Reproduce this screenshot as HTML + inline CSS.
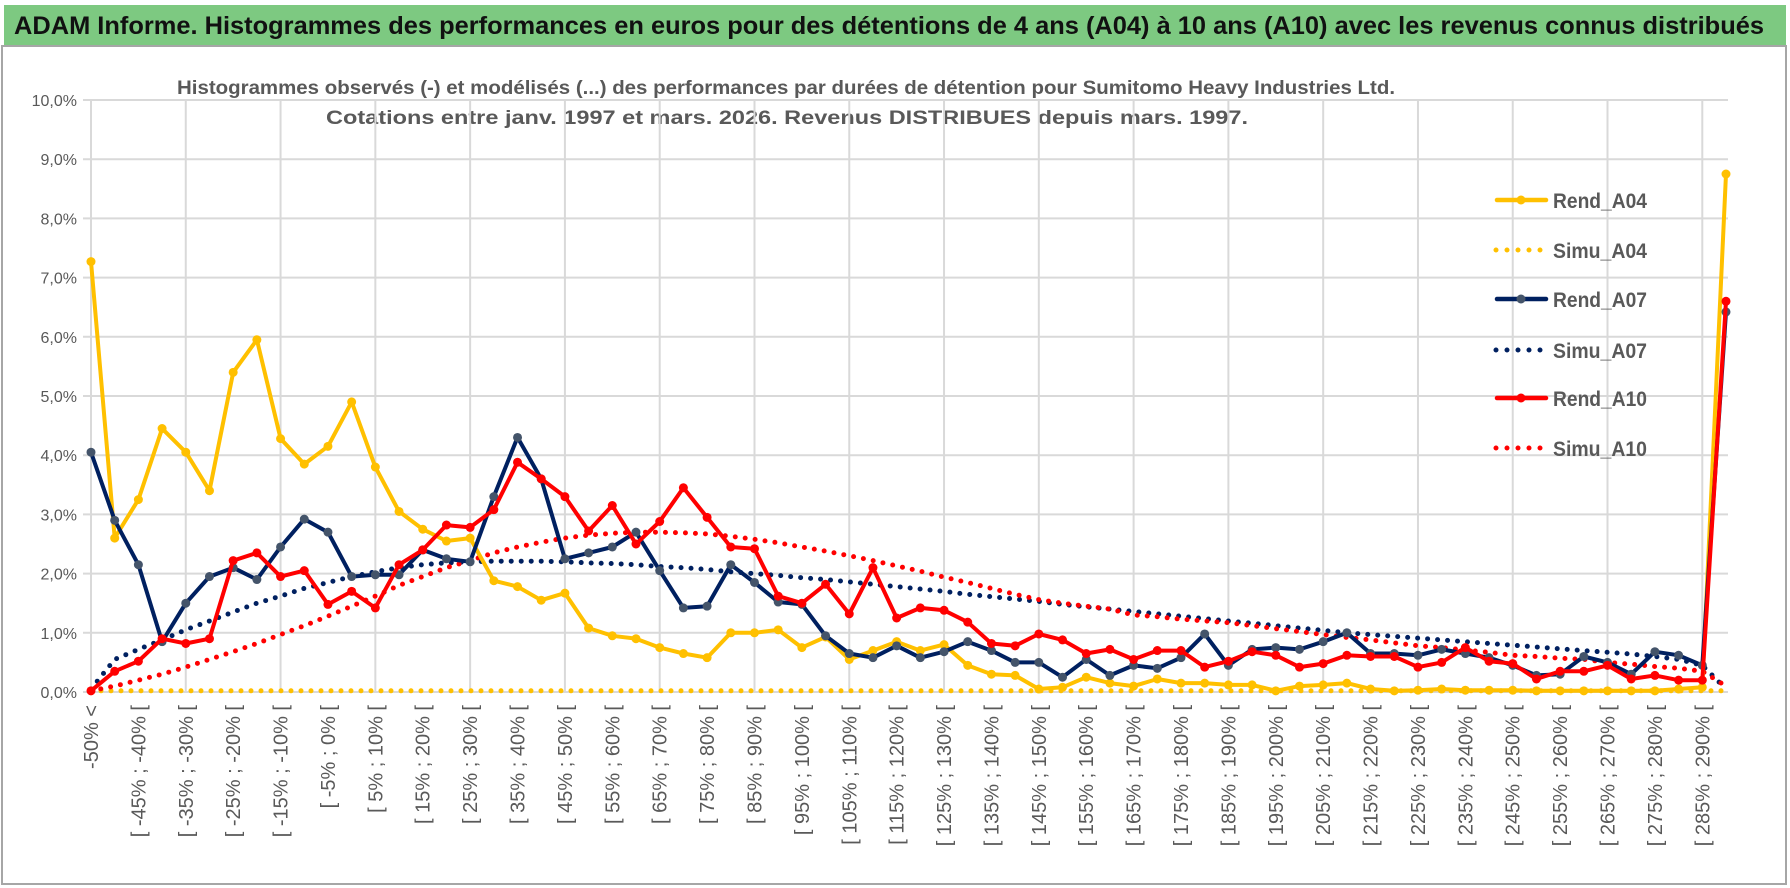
<!DOCTYPE html>
<html><head><meta charset="utf-8">
<style>
html,body{margin:0;padding:0;background:#fff;width:1790px;height:888px;overflow:hidden}
svg{display:block;font-family:"Liberation Sans",sans-serif}
</style></head>
<body>
<svg id="chart" width="1790" height="888" viewBox="0 0 1790 888" xmlns="http://www.w3.org/2000/svg">
<rect x="0" y="0" width="1790" height="888" fill="#fff"/>
<rect x="2" y="46" width="1784" height="838" fill="#fff" stroke="#a6a6a6" stroke-width="2"/>
<rect x="4" y="5" width="1782" height="40" fill="#7dc981"/>
<text x="14" y="34" font-size="25" font-weight="bold" fill="#111" textLength="1750" lengthAdjust="spacingAndGlyphs">ADAM Informe. Histogrammes des performances en euros pour des détentions de 4 ans (A04) à 10 ans (A10) avec les revenus connus distribués</text>
<text x="177" y="94" font-size="19" font-weight="bold" fill="#595959" textLength="1218" lengthAdjust="spacingAndGlyphs">Histogrammes observés (-) et modélisés (...) des performances par durées de détention pour Sumitomo Heavy Industries Ltd.</text>
<text x="326" y="124" font-size="19" font-weight="bold" fill="#595959" textLength="922" lengthAdjust="spacingAndGlyphs">Cotations entre janv. 1997 et mars. 2026. Revenus DISTRIBUES depuis mars. 1997.</text>
<g id="grid"></g>
<g id="series"></g>
<g id="axes"></g>
<g id="legend"></g>
</svg>
<script>
const categories = ["-50% <","[ -50% ; -45% [","[ -45% ; -40% [","[ -40% ; -35% [","[ -35% ; -30% [","[ -30% ; -25% [","[ -25% ; -20% [","[ -20% ; -15% [","[ -15% ; -10% [","[ -10% ; -5% [","[ -5% ; 0% [","[ 0% ; 5% [","[ 5% ; 10% [","[ 10% ; 15% [","[ 15% ; 20% [","[ 20% ; 25% [","[ 25% ; 30% [","[ 30% ; 35% [","[ 35% ; 40% [","[ 40% ; 45% [","[ 45% ; 50% [","[ 50% ; 55% [","[ 55% ; 60% [","[ 60% ; 65% [","[ 65% ; 70% [","[ 70% ; 75% [","[ 75% ; 80% [","[ 80% ; 85% [","[ 85% ; 90% [","[ 90% ; 95% [","[ 95% ; 100% [","[ 100% ; 105% [","[ 105% ; 110% [","[ 110% ; 115% [","[ 115% ; 120% [","[ 120% ; 125% [","[ 125% ; 130% [","[ 130% ; 135% [","[ 135% ; 140% [","[ 140% ; 145% [","[ 145% ; 150% [","[ 150% ; 155% [","[ 155% ; 160% [","[ 160% ; 165% [","[ 165% ; 170% [","[ 170% ; 175% [","[ 175% ; 180% [","[ 180% ; 185% [","[ 185% ; 190% [","[ 190% ; 195% [","[ 195% ; 200% [","[ 200% ; 205% [","[ 205% ; 210% [","[ 210% ; 215% [","[ 215% ; 220% [","[ 220% ; 225% [","[ 225% ; 230% [","[ 230% ; 235% [","[ 235% ; 240% [","[ 240% ; 245% [","[ 245% ; 250% [","[ 250% ; 255% [","[ 255% ; 260% [","[ 260% ; 265% [","[ 265% ; 270% [","[ 270% ; 275% [","[ 275% ; 280% [","[ 280% ; 285% [","[ 285% ; 290% [","290% >"];
const rendA04 = [7.27,2.6,3.25,4.45,4.05,3.4,5.4,5.95,4.28,3.85,4.15,4.9,3.8,3.05,2.75,2.55,2.6,1.88,1.78,1.55,1.67,1.08,0.95,0.9,0.75,0.65,0.58,1.0,1.0,1.05,0.75,0.93,0.55,0.7,0.85,0.7,0.8,0.45,0.3,0.28,0.05,0.08,0.25,0.15,0.1,0.22,0.15,0.15,0.12,0.12,0.02,0.1,0.12,0.15,0.05,0.02,0.03,0.05,0.03,0.03,0.03,0.02,0.02,0.02,0.02,0.02,0.02,0.05,0.08,8.75];
const simuA04 = [0.02,0.02,0.02,0.02,0.02,0.02,0.02,0.02,0.02,0.02,0.02,0.02,0.02,0.02,0.02,0.02,0.02,0.02,0.02,0.02,0.02,0.02,0.02,0.02,0.02,0.02,0.02,0.02,0.02,0.02,0.02,0.02,0.02,0.02,0.02,0.02,0.02,0.02,0.02,0.02,0.02,0.02,0.02,0.02,0.02,0.02,0.02,0.02,0.02,0.02,0.02,0.02,0.02,0.02,0.02,0.02,0.02,0.02,0.02,0.02,0.02,0.02,0.02,0.02,0.02,0.02,0.02,0.02,0.02,0.02];
const rendA07 = [4.05,2.9,2.15,0.85,1.5,1.95,2.1,1.9,2.45,2.92,2.7,1.95,1.98,1.98,2.4,2.25,2.2,3.3,4.3,3.6,2.25,2.35,2.45,2.7,2.05,1.42,1.45,2.15,1.85,1.52,1.48,0.95,0.65,0.58,0.78,0.58,0.68,0.85,0.7,0.5,0.5,0.25,0.55,0.28,0.45,0.4,0.58,0.98,0.45,0.72,0.75,0.72,0.85,1.0,0.65,0.65,0.62,0.72,0.65,0.58,0.45,0.28,0.3,0.6,0.5,0.3,0.68,0.62,0.45,6.42];
const simuA07 = [0.05,0.55,0.72,0.88,1.05,1.2,1.35,1.5,1.62,1.75,1.85,1.95,2.03,2.1,2.15,2.18,2.2,2.21,2.21,2.21,2.2,2.18,2.17,2.15,2.12,2.1,2.07,2.03,2.0,1.97,1.93,1.9,1.86,1.82,1.78,1.74,1.7,1.65,1.61,1.57,1.53,1.48,1.44,1.4,1.36,1.32,1.28,1.24,1.2,1.16,1.12,1.08,1.04,1.0,0.97,0.94,0.91,0.88,0.85,0.82,0.79,0.76,0.73,0.7,0.67,0.64,0.6,0.55,0.45,0.05];
const rendA10 = [0.02,0.35,0.52,0.9,0.82,0.9,2.22,2.35,1.95,2.05,1.48,1.7,1.42,2.15,2.4,2.82,2.78,3.08,3.88,3.6,3.3,2.72,3.15,2.5,2.88,3.45,2.95,2.45,2.42,1.62,1.5,1.82,1.32,2.1,1.25,1.42,1.38,1.18,0.82,0.78,0.98,0.88,0.65,0.72,0.55,0.7,0.7,0.42,0.52,0.68,0.62,0.42,0.48,0.62,0.6,0.6,0.42,0.5,0.75,0.52,0.48,0.22,0.35,0.35,0.45,0.22,0.28,0.2,0.2,6.6];
const simuA10 = [0.02,0.1,0.2,0.3,0.42,0.55,0.68,0.82,0.97,1.12,1.28,1.45,1.62,1.8,1.95,2.1,2.22,2.35,2.45,2.53,2.6,2.65,2.68,2.7,2.7,2.69,2.67,2.63,2.58,2.52,2.45,2.38,2.3,2.22,2.13,2.04,1.94,1.85,1.75,1.65,1.56,1.5,1.45,1.4,1.3,1.27,1.23,1.2,1.17,1.12,1.07,1.02,0.97,0.92,0.88,0.83,0.78,0.75,0.71,0.67,0.62,0.6,0.57,0.55,0.5,0.47,0.43,0.4,0.35,0.1];
const yTicks = [0,1,2,3,4,5,6,7,8,9,10];
const yTickLabels = ["0,0%","1,0%","2,0%","3,0%","4,0%","5,0%","6,0%","7,0%","8,0%","9,0%","10,0%"];

const NS = "http://www.w3.org/2000/svg";
const X0 = 91, X1 = 1726, Y0 = 692, Y10 = 100;
function xScale(i){ return X0 + i*(X1-X0)/(categories.length-1); }
function yScale(v){ return Y0 - v*(Y0-Y10)/10; }
function mk(tag, attrs, parent){ const e=document.createElementNS(NS,tag); for(const k in attrs) e.setAttribute(k,attrs[k]); parent.appendChild(e); return e; }

const grid = document.getElementById('grid');
yTicks.forEach((t,i)=>{
  const l = mk('line',{x1:X0-8,x2:1728,y1:yScale(t),y2:yScale(t),stroke:'#d9d9d9','stroke-width':2},grid);
  
  
  const tx = mk('text',{x:77,y:yScale(t)+6,'text-anchor':'end','font-size':16,fill:'#595959'},grid);
  tx.textContent = yTickLabels[i];
  
  
});
categories.forEach((c,i)=>{
  if(i%4===0){
    const l = mk('line',{x1:xScale(i),x2:xScale(i),y1:Y10,y2:Y0,stroke:'#d9d9d9','stroke-width':2},grid);
    
    
  }
});
const axes = document.getElementById('axes');
categories.forEach((c,i)=>{
  if(i%2===0){
    const x = xScale(i)+7, y = 705;
    const tx = mk('text',{x:x,y:y,'text-anchor':'end','font-size':20,fill:'#595959',transform:`rotate(-90 ${x} ${y})`},axes);
    tx.textContent = c;
    
    
  }
});

const series = document.getElementById('series');
function pts(arr){ return arr.map((v,i)=>xScale(i).toFixed(1)+','+yScale(v).toFixed(1)).join(' '); }
function dotted(arr,color,name){
  const p = mk('polyline',{points:pts(arr),fill:'none',stroke:color,'stroke-width':5,'stroke-linecap':'round','stroke-dasharray':'0 10'},series);
  
  
}
function solid(arr,color,mcolor,name){
  const g = mk('g',{},series);
  
  
  mk('polyline',{points:pts(arr),fill:'none',stroke:color,'stroke-width':4,'stroke-linejoin':'round'},g);
  arr.forEach((v,i)=>{
    const c = mk('circle',{cx:xScale(i),cy:yScale(v),r:4.5,fill:mcolor},g);
    
    
  });
}
dotted(simuA04,'#ffc000','simu-a04-line');
dotted(simuA07,'#002060','simu-a07-line');
dotted(simuA10,'#ff0000','simu-a10-line');
solid(rendA04,'#ffc000','#ffc000','rend-a04-line');
solid(rendA07,'#002060','#44546a','rend-a07-line');
solid(rendA10,'#ff0000','#ff0000','rend-a10-line');

const legend = document.getElementById('legend');
const legItems = [["Rend_A04","#ffc000","#ffc000",false],["Simu_A04","#ffc000","",true],["Rend_A07","#002060","#44546a",false],["Simu_A07","#002060","",true],["Rend_A10","#ff0000","#ff0000",false],["Simu_A10","#ff0000","",true]];
const legY = [200,250,299,350,398,448];
legItems.forEach((it,i)=>{
  const g = mk('g',{},legend);
  
  
  const y = legY[i];
  if(it[3]){
    mk('line',{x1:1496,x2:1546,y1:y,y2:y,stroke:it[1],'stroke-width':5,'stroke-linecap':'round','stroke-dasharray':'0 11'},g);
  } else {
    mk('line',{x1:1497,x2:1546,y1:y,y2:y,stroke:it[1],'stroke-width':4.5,'stroke-linecap':'round'},g);
    mk('circle',{cx:1521,cy:y,r:4.5,fill:it[2]},g);
  }
  const t = mk('text',{x:1553,y:y+8,'font-size':21,'font-weight':'bold',fill:'#595959',textLength:94,lengthAdjust:'spacingAndGlyphs'},g);
  t.textContent = it[0];
});
</script>
</body></html>
